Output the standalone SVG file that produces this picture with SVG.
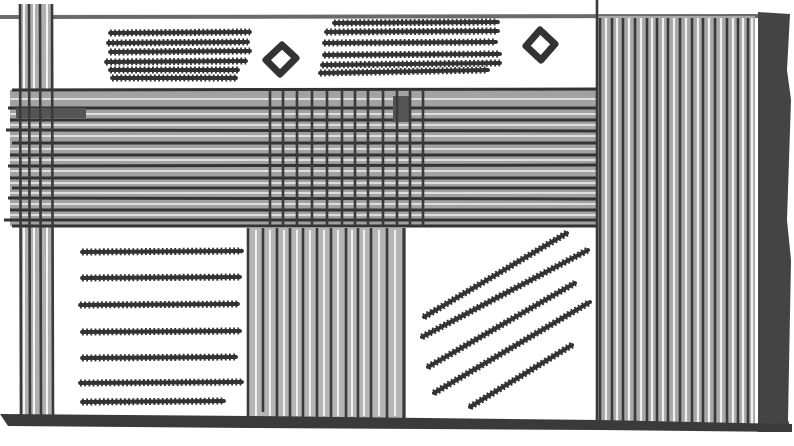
<svg xmlns="http://www.w3.org/2000/svg" width="794" height="446" viewBox="0 0 794 446">
<style>
.d{stroke:#3a3a3a;fill:none}
.s{stroke:#333;stroke-width:7;stroke-dasharray:1.8 2.4;fill:none}
.k{stroke:#333;stroke-width:4;fill:none;stroke-linecap:round}
.c{stroke:#3a3a3a;stroke-width:2.6;fill:none}
.h{stroke:#333;stroke-width:3}
.w{stroke:#f2f2f2;stroke-width:1.6}
</style>
<defs>
<g id="scrL">
<line x1="82" y1="252" x2="242" y2="251"/><line x1="82" y1="278" x2="240" y2="277"/><line x1="80" y1="305" x2="238" y2="304"/><line x1="82" y1="332" x2="240" y2="331"/><line x1="82" y1="358" x2="236" y2="357"/><line x1="80" y1="383" x2="242" y2="382"/><line x1="82" y1="402" x2="224" y2="401"/>
</g>
<g id="scrR">
<line x1="424" y1="317" x2="567" y2="233"/><line x1="422" y1="337" x2="588" y2="250"/><line x1="428" y1="367" x2="575" y2="283"/><line x1="434" y1="393" x2="590" y2="302"/><line x1="470" y1="407" x2="572" y2="345"/>
</g>
<g id="scrTL">
<line x1="110" y1="33" x2="250" y2="32"/><line x1="108" y1="43" x2="248" y2="42"/><line x1="110" y1="52" x2="250" y2="51"/><line x1="106" y1="62" x2="246" y2="61"/><line x1="110" y1="70" x2="238" y2="70"/><line x1="112" y1="78" x2="236" y2="78"/>
</g>
<g id="scrTR">
<line x1="334" y1="23" x2="498" y2="22"/><line x1="326" y1="32" x2="498" y2="31"/><line x1="324" y1="43" x2="496" y2="42"/><line x1="324" y1="55" x2="500" y2="54"/><line x1="322" y1="65" x2="500" y2="63"/><line x1="320" y1="73" x2="488" y2="70"/>
</g>
</defs>
<rect width="794" height="446" fill="#fff"/>
<line x1="0" y1="17" x2="760" y2="16" stroke="#6a6a6a" stroke-width="4"/>
<g id="leftposts">
<rect x="20" y="4" width="33" height="412" fill="#b0b0b0"/>
<g stroke="#f4f4f4" stroke-width="2"><line x1="34" y1="4" x2="34" y2="416"/><line x1="47" y1="4" x2="47" y2="416"/><line x1="24" y1="4" x2="24" y2="416"/></g>
</g>
<g id="band">
<rect x="10" y="90" width="588" height="136" fill="#a2a2a2"/>
<g class="w">
<line x1="10" y1="99" x2="598" y2="99"/><line x1="10" y1="114" x2="598" y2="114"/><line x1="10" y1="125" x2="598" y2="125"/><line x1="10" y1="136" x2="598" y2="136"/><line x1="10" y1="149" x2="598" y2="149"/><line x1="10" y1="160" x2="598" y2="160"/><line x1="10" y1="171" x2="598" y2="171"/><line x1="10" y1="183" x2="598" y2="183"/><line x1="10" y1="193" x2="598" y2="193"/><line x1="10" y1="204" x2="598" y2="204"/><line x1="10" y1="215" x2="598" y2="215"/>
</g>
<g class="h">
<line x1="12" y1="90" x2="598" y2="89"/><line x1="8" y1="108" x2="598" y2="108"/><line x1="10" y1="120" x2="598" y2="120"/><line x1="6" y1="130" x2="598" y2="131"/><line x1="12" y1="143" x2="598" y2="143"/><line x1="10" y1="155" x2="598" y2="155"/><line x1="8" y1="166" x2="598" y2="165"/><line x1="10" y1="178" x2="598" y2="178"/><line x1="12" y1="188" x2="598" y2="188"/><line x1="8" y1="198" x2="598" y2="199"/><line x1="10" y1="210" x2="598" y2="210"/><line x1="4" y1="220" x2="598" y2="220"/><line x1="12" y1="226" x2="598" y2="226"/>
</g>
<rect x="16" y="108" width="70" height="10" fill="#555"/>
</g>
<g id="grid" class="c">
<rect x="393" y="96" width="16" height="26" fill="#555" stroke="none"/>
<line x1="270" y1="90" x2="270" y2="226"/><line x1="283" y1="90" x2="283" y2="226"/><line x1="297" y1="90" x2="297" y2="226"/><line x1="312" y1="90" x2="312" y2="226"/><line x1="327" y1="90" x2="327" y2="226"/><line x1="342" y1="90" x2="342" y2="226"/><line x1="355" y1="90" x2="355" y2="226"/><line x1="368" y1="90" x2="368" y2="226"/><line x1="383" y1="90" x2="383" y2="226"/><line x1="397" y1="90" x2="397" y2="226"/><line x1="410" y1="90" x2="410" y2="226"/><line x1="423" y1="90" x2="423" y2="226"/>
</g>
<g id="leftlines" class="c" stroke-width="3">
<line x1="20" y1="4" x2="21" y2="416"/><line x1="29" y1="4" x2="30" y2="416"/><line x1="40" y1="4" x2="41" y2="416"/><line x1="52" y1="4" x2="53" y2="416"/>
</g>
<g id="midposts" class="c">
<rect x="248" y="228" width="157" height="190" fill="#b5b5b5" stroke="none"/>
<g stroke="#f0f0f0" stroke-width="2"><line x1="256" y1="230" x2="256" y2="416"/><line x1="270" y1="230" x2="270" y2="416"/><line x1="284" y1="230" x2="284" y2="416"/><line x1="297" y1="230" x2="297" y2="416"/><line x1="310" y1="230" x2="310" y2="416"/><line x1="324" y1="230" x2="324" y2="416"/><line x1="338" y1="230" x2="338" y2="416"/><line x1="352" y1="230" x2="352" y2="416"/><line x1="364" y1="230" x2="364" y2="416"/><line x1="379" y1="230" x2="379" y2="416"/><line x1="395" y1="230" x2="395" y2="416"/></g>
<line x1="248" y1="228" x2="248" y2="418"/><line x1="263" y1="228" x2="263" y2="412"/><line x1="277" y1="228" x2="277" y2="418"/><line x1="290" y1="228" x2="290" y2="418"/><line x1="303" y1="228" x2="303" y2="418"/><line x1="317" y1="228" x2="317" y2="418"/><line x1="331" y1="228" x2="331" y2="418"/><line x1="346" y1="228" x2="346" y2="418"/><line x1="358" y1="228" x2="358" y2="418"/><line x1="371" y1="228" x2="371" y2="418"/><line x1="387" y1="228" x2="387" y2="418"/><line x1="404" y1="228" x2="404" y2="418"/>
</g>
<g id="rightbox">
<line class="d" stroke-width="3" x1="404" y1="228" x2="404" y2="418"/>
</g>
<g id="rightpanel">
<rect x="597" y="16" width="158" height="410" fill="#a8a8a8"/>
<g stroke="#f0f0f0" stroke-width="2.2"><line x1="606" y1="18" x2="606" y2="424"/><line x1="617" y1="18" x2="617" y2="424"/><line x1="629" y1="18" x2="629" y2="424"/><line x1="641" y1="18" x2="641" y2="424"/><line x1="652" y1="18" x2="652" y2="424"/><line x1="663" y1="18" x2="663" y2="424"/><line x1="674" y1="18" x2="674" y2="424"/><line x1="686" y1="18" x2="686" y2="424"/><line x1="698" y1="18" x2="698" y2="424"/><line x1="709" y1="18" x2="709" y2="424"/><line x1="721" y1="18" x2="721" y2="424"/><line x1="733" y1="18" x2="733" y2="424"/><line x1="743" y1="18" x2="743" y2="424"/><line x1="752" y1="18" x2="752" y2="424"/></g>
<g class="c" stroke-width="2.2"><line x1="600" y1="18" x2="600" y2="424"/><line x1="612" y1="18" x2="612" y2="424"/><line x1="623" y1="18" x2="623" y2="424"/><line x1="635" y1="18" x2="635" y2="424"/><line x1="647" y1="18" x2="647" y2="424"/><line x1="657" y1="18" x2="657" y2="424"/><line x1="668" y1="18" x2="668" y2="424"/><line x1="680" y1="18" x2="680" y2="424"/><line x1="692" y1="18" x2="692" y2="424"/><line x1="703" y1="18" x2="703" y2="424"/><line x1="715" y1="18" x2="715" y2="424"/><line x1="727" y1="18" x2="727" y2="424"/><line x1="738" y1="18" x2="738" y2="424"/><line x1="748" y1="18" x2="748" y2="424"/></g>
<line class="c" stroke-width="3" x1="597" y1="0" x2="597" y2="426"/>
<path d="M758,12 L790,14 L787,70 L791,100 L787,220 L791,260 L788,420 L792,432 L758,432 Z" fill="#444"/>
</g>
<path id="ground" d="M0,414 L250,416 L600,420 L792,424 L792,432 L600,430 L250,428 L8,426 Z" fill="#3a3a3a"/>
<g id="text-left-top">
<use href="#scrTL" class="k" stroke-width="3.5"/><use href="#scrTL" class="s" stroke-width="6"/>
</g>
<g id="text-right-top">
<use href="#scrTR" class="k" stroke-width="3.5"/><use href="#scrTR" class="s" stroke-width="6"/>
</g>
<g id="diamonds" stroke="#333" stroke-width="7" fill="#fff" stroke-linejoin="round">
<path d="M282,45 L296,58 L280,74 L266,60 Z"/>
<path d="M540,30 L555,44 L541,60 L526,46 Z"/>
</g>
<g id="text-left-bottom">
<use href="#scrL" class="k" stroke-width="4.5"/><use href="#scrL" class="s" stroke-width="8"/>
</g>
<g id="text-right-bottom">
<use href="#scrR" class="k" stroke-width="5.5"/><use href="#scrR" class="s" stroke-width="10"/>
</g>
</svg>
